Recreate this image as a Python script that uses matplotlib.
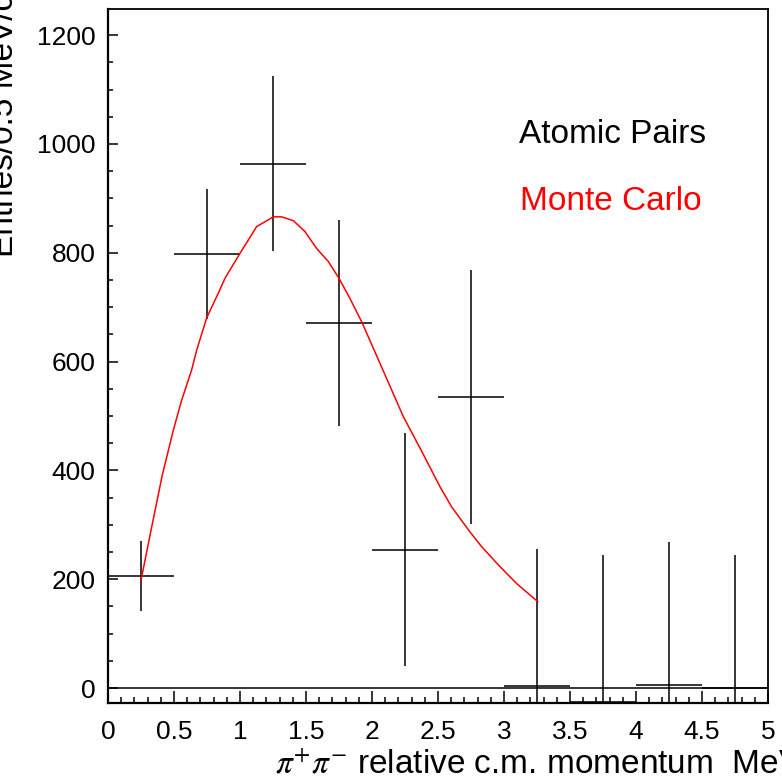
import matplotlib
matplotlib.use("Agg")
import matplotlib.pyplot as plt
from matplotlib.ticker import MultipleLocator
import numpy as np

plt.rcParams["font.family"] = ["Liberation Sans", "DejaVu Sans"]
plt.rcParams["mathtext.fontset"] = "stix"

# histogram of atomic pairs (bin width 0.5 MeV/c)
bin_centers = [0.25, 0.75, 1.25, 1.75, 2.25, 2.75, 3.25, 3.75, 4.25, 4.75]
counts = [206, 798, 964, 671, 254, 535, 3, -25, 5, 0]
errors = [64, 120, 161, 190, 214, 233, 252, 270, 263, 244]
bin_half_width = 0.25

# Monte Carlo curve
mc_x = [0.25, 0.331, 0.411, 0.495, 0.558, 0.634, 0.672, 0.747, 0.836, 0.886,
        1.0, 1.126, 1.252, 1.316, 1.404, 1.492, 1.58, 1.669, 1.75, 1.833,
        1.922, 2.06, 2.237, 2.364, 2.515, 2.603, 2.742, 2.83, 2.97, 3.096, 3.255]
mc_y = [198, 296, 391, 474, 529, 585, 621, 680, 726, 753,
        799, 848, 866, 866, 859, 839, 808, 784, 753, 716,
        673, 597, 499, 441, 370, 333, 287, 260, 223, 192, 159]

W, H = 782, 779
fig = plt.figure(figsize=(W / 100, H / 100), dpi=100)
ax = fig.add_axes([108 / W, 1 - 703 / H, (768 - 108) / W, (703 - 9) / H])

ax.set_xlim(0, 5)
ax.set_ylim(-27.5, 1248)

# zero line
ax.axhline(0, color="black", linewidth=1.1, zorder=1)

# data points with error bars
ax.errorbar(bin_centers, counts, yerr=errors, xerr=bin_half_width,
            fmt="none", ecolor="black", elinewidth=1.1, capsize=0, zorder=3)

# Monte Carlo
ax.plot(mc_x, mc_y, color="red", linewidth=1.1, zorder=4)

# text labels
ax.text(3.114, 1002, "Atomic Pairs", fontsize=24, color="black",
        ha="left", va="baseline")
ax.text(3.121, 879, "Monte Carlo", fontsize=24, color="red",
        ha="left", va="baseline")

# axes styling (ROOT-like frame, ticks only left/bottom)
for side in ["left", "bottom"]:
    ax.spines[side].set_linewidth(1.6)
for side in ["top", "right"]:
    ax.spines[side].set_linewidth(1.3)

ax.xaxis.set_major_locator(MultipleLocator(0.5))
ax.xaxis.set_minor_locator(MultipleLocator(0.1))
ax.yaxis.set_major_locator(MultipleLocator(200))
ax.yaxis.set_minor_locator(MultipleLocator(50))
ax.set_xticks(np.arange(0, 5.01, 0.5))
ax.set_xticklabels(["0", "0.5", "1", "1.5", "2", "2.5", "3", "3.5", "4", "4.5", "5"])

ax.tick_params(axis="x", which="major", direction="in", length=8.5, width=1.1,
               labelsize=19, pad=12, top=False)
ax.tick_params(axis="x", which="minor", direction="in", length=4.3, width=1.1, top=False)
ax.tick_params(axis="y", which="major", direction="in", length=7, width=1.1,
               labelsize=19, pad=9, right=False)
ax.tick_params(axis="y", which="minor", direction="in", length=3.6, width=1.1, right=False)

# axis titles (cut at the figure edge, as in the original)
fig.text(275 / W, 1 - 773 / H, r"$\pi^{+}\pi^{-}$ relative c.m. momentum  MeV/c",
         fontsize=24, ha="left", va="baseline")
fig.text(13 / W, 1 - 257 / H, "Entries/0.5 MeV/c", fontsize=24, rotation=90,
         rotation_mode="anchor", ha="left", va="baseline")

plt.savefig("out.png", dpi=100)
plt.close(fig)
